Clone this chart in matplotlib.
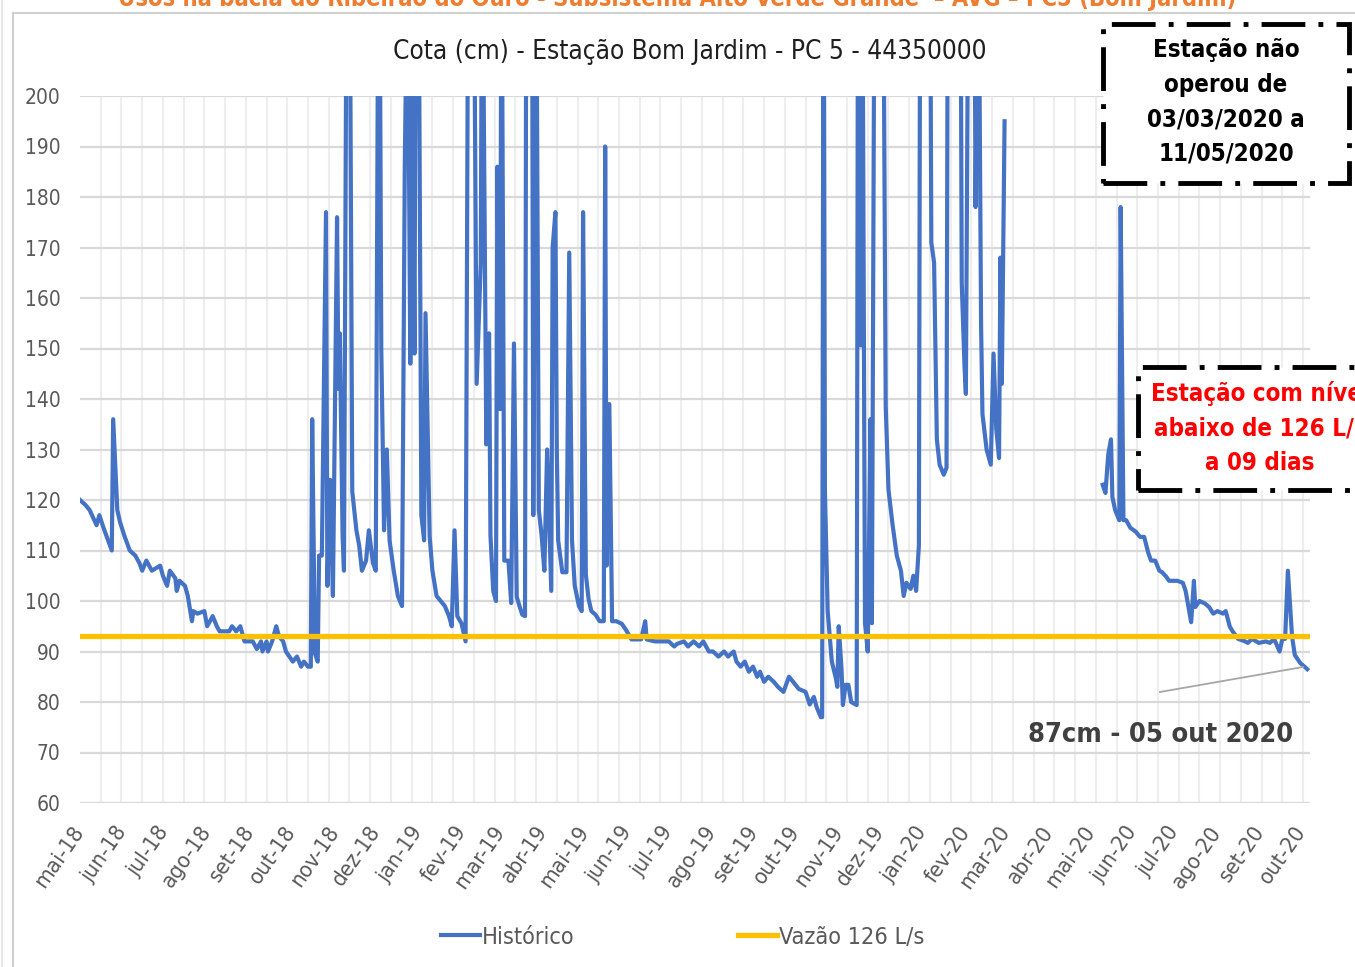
import numpy as np
import matplotlib
matplotlib.use("Agg")
import matplotlib.pyplot as plt
from matplotlib import font_manager
from matplotlib.font_manager import FontProperties
from matplotlib.lines import Line2D
from matplotlib.patches import Rectangle
from matplotlib.ticker import MultipleLocator

# ---- data (days counted from 2018-05-01, cota in cm) ----
BASE = np.datetime64("2018-05-01")

# mai-2018 .. 02/03/2020
dias_1820 = [0, 4, 7, 12, 14, 17, 23, 24, 27, 29, 32, 36, 40, 43, 45, 48, 52, 58, 60, 63,
             65, 69, 70, 72, 76, 78, 81, 82, 85, 90, 92, 96, 99, 101, 108, 110, 113, 116, 119, 125,
             128, 131, 132, 135, 136, 139, 142, 144, 147, 149, 154, 157, 160, 162, 165, 167, 168, 170, 172, 173,
             175, 178, 179, 181, 183, 186, 187, 188, 190, 191, 193, 194, 195, 197, 200, 202, 204, 207, 209, 212,
             214, 216, 217, 218, 220, 222, 224, 227, 230, 233, 235, 237, 239, 240, 242, 243, 245, 247, 249, 250,
             253, 255, 258, 264, 267, 269, 271, 273, 276, 279, 281, 283, 285, 287, 290, 291, 294, 296, 297, 299,
             301, 302, 304, 305, 307, 310, 312, 314, 316, 318, 320, 322, 323, 325, 327, 328, 330, 332, 334, 336,
             338, 341, 342, 344, 345, 346, 349, 352, 354, 356, 358, 361, 363, 364, 366, 368, 370, 373, 376, 379,
             380, 381, 383, 385, 388, 392, 395, 399, 403, 406, 409, 410, 416, 421, 426, 430, 432, 437, 440, 444,
             448, 451, 455, 458, 462, 466, 469, 473, 475, 478, 481, 484, 487, 490, 492, 495, 498, 502, 505, 509,
             513, 516, 520, 525, 528, 531, 533, 536, 537, 538, 539, 541, 544, 547, 548, 549, 551, 552, 554, 556,
             558, 562, 563, 565, 566, 568, 570, 572, 573, 575, 578, 581, 583, 585, 588, 591, 594, 596, 598, 601,
             603, 605, 607, 608, 612, 615, 616, 618, 620, 622, 625, 627, 628, 633, 637, 638, 640, 641, 643, 647,
             648, 650, 652, 653, 656, 659, 661, 663, 665, 666, 667, 669]
cota_1820 = [120, 119, 118, 115, 117, 114.5, 110, 136, 118, 115.6, 113, 110, 109, 107.5, 106, 108, 106, 107, 105, 103,
             106, 104.5, 102, 104, 103, 101, 96, 98, 97.5, 98, 95, 97, 95, 94, 94, 95, 94, 95, 92, 92,
             90.5, 92, 90, 92, 90, 92, 95, 93, 92, 90, 88, 89, 87, 88, 87, 87, 136, 89.6, 88, 109,
             109, 177, 103, 124, 101, 176, 142, 153, 113, 106, 235, 215, 240, 121.7, 114, 111, 106, 108, 114, 107.5,
             106, 240, 215, 150, 114, 130, 112, 106, 101, 99, 186, 230, 147, 230, 149, 230, 230, 117, 112, 157,
             112.8, 106, 101, 99, 97, 95, 114, 97, 95.6, 92, 240, 215, 230, 143, 167, 240, 131, 153, 113, 102,
             100, 186, 138, 240, 108, 108, 99.6, 151, 100.8, 99, 97.3, 97, 240, 230, 240, 117, 240, 118, 113, 106,
             130, 102, 170, 177, 130, 112, 105.7, 105.7, 169, 112, 103, 99, 98, 177, 105.3, 100.4, 98, 97.3, 96, 96,
             190, 107, 139, 96, 96, 95.5, 94.3, 92.4, 92.4, 92.4, 96, 92.4, 92, 92, 92, 91, 91.5, 92, 91, 92,
             91, 92, 90, 90, 89, 90, 89, 90, 88, 87, 88, 86, 87, 85, 86, 84, 85, 84, 83, 82,
             85, 84, 82.6, 82, 79.5, 81, 79, 77, 77, 240, 122, 98, 88, 84.6, 83, 95, 86.6, 79.4, 83.4, 83.4,
             80, 79.4, 240, 150.6, 240, 95.6, 90, 136, 95.6, 240, 250, 240, 138.5, 122, 115, 109, 106, 101, 103.6, 102.4,
             105, 102, 111, 240, 250, 240, 171, 167, 132, 127, 125, 126.4, 240, 250, 240, 163, 146.6, 141, 240, 240,
             178, 240, 154.7, 137, 130, 127, 149, 134, 128.3, 168, 143, 195]

# 12/05/2020 .. 05/10/2020
dias_2020 = [740, 742, 744, 746, 747, 749, 752, 753, 755, 757, 760, 764, 767, 770, 773, 775, 778, 781, 783, 786,
             788, 794, 798, 800, 804, 806, 807, 810, 814, 817, 820, 823, 827, 829, 832, 834, 838, 843, 845, 848,
             853, 858, 861, 864, 868, 870, 872, 874, 877, 879, 883, 886, 888]
cota_2020 = [123, 121.4, 129, 132, 120.6, 118, 116, 178, 116, 116, 114.5, 113.7, 112.7, 112.7, 109.5, 108, 108, 106, 105.7, 104.8,
             104, 104, 103.6, 102, 95.8, 104, 98.8, 100, 99.5, 98.8, 97.5, 98, 97.5, 98, 94.9, 94, 92.5, 92, 91.7, 92.5,
             91.7, 92, 91.7, 92.5, 90, 92.5, 92.5, 106, 93, 89.3, 87.7, 87, 86.5]

# cota equivalente a vazao de 126 L/s
limiar_dias = [0, 888]
limiar_cota = [93, 93]

meses = ["mai", "jun", "jul", "ago", "set", "out", "nov", "dez", "jan", "fev", "mar", "abr"]
tick_datas = np.arange(np.datetime64("2018-05"), np.datetime64("2020-11"), np.timedelta64(1, "M"))


# ---- fonts: prefer a narrow / condensed sans (chart was squeezed horizontally) ----
def pick_narrow(bold):
    for f in font_manager.fontManager.ttflist:
        fn = f.fname.lower()
        if ("narrow" in fn or "condensed" in fn) and "mono" not in fn and "serif" not in fn \
                and "italic" not in fn and "oblique" not in fn:
            w = f.weight if isinstance(f.weight, int) else (700 if "bold" in str(f.weight) else 400)
            if (w >= 600) == bold and w in (400, 700, "normal", "bold"):
                return f.fname
    return None


reg_file, bold_file = pick_narrow(False), pick_narrow(True)
if reg_file and bold_file:
    FREG = lambda s: FontProperties(fname=reg_file, size=s)
    FBOLD = lambda s: FontProperties(fname=bold_file, size=s)
    K = 1.0
else:
    FREG = lambda s: FontProperties(family="Liberation Sans", size=s)
    FBOLD = lambda s: FontProperties(family="Liberation Sans", weight="bold", size=s)
    K = 0.9

W, H = 1355, 967
fig = plt.figure(figsize=(W / 100, H / 100), dpi=100)
fx = lambda px: px / W
fy = lambda py: 1 - py / H

ax = fig.add_axes([fx(80), fy(803), fx(1310) - fx(80), fy(96) - fy(803)])
ax.plot(dias_1820, cota_1820, color="#4472C4", lw=3.0, solid_joinstyle="round", label="Histórico", zorder=3)
ax.plot(dias_2020, cota_2020, color="#4472C4", lw=3.0, solid_joinstyle="round", zorder=3)
ax.plot(limiar_dias, limiar_cota, color="#FFC000", lw=3.8, label="Vazão 126 L/s", zorder=4)

ax.set_ylim(60, 200)
ax.set_xlim(0, 890)
ax.set_yticks(np.arange(60, 201, 10))
tick_dias = (tick_datas.astype("datetime64[D]") - BASE).astype(int)
ax.set_xticks(tick_dias)
ax.set_xticklabels([f"{meses[i % 12]}-{str(d)[2:4]}" for i, d in enumerate(tick_datas)],
                   rotation=55, ha="right", va="center", rotation_mode="anchor")
ax.xaxis.set_minor_locator(MultipleLocator(15))
ax.grid(axis="y", which="major", color="#D9D9D9", lw=1.6)
ax.grid(axis="x", which="minor", color="#EEEEEE", lw=1.5)
ax.set_axisbelow(True)
for s in ax.spines.values():
    s.set_visible(False)
ax.tick_params(axis="both", which="both", length=0, colors="#595959")
ax.tick_params(axis="y", pad=14)
ax.tick_params(axis="x", pad=18)
for t in ax.get_yticklabels():
    t.set_fontproperties(FREG(15 * K))
for t in ax.get_xticklabels():
    t.set_fontproperties(FREG(16 * K))

# ---- titles ----
fig.text(0.5, fy(6), "Usos na bacia do Ribeirão do Ouro - Subsistema Alto Verde Grande  – AVG – PC5 (Bom Jardim)",
         ha="center", va="baseline", fontproperties=FBOLD(17 * K), color="#ED7D31")
fig.text(fx(690), fy(52), "Cota (cm) - Estação Bom Jardim - PC 5 - 44350000",
         ha="center", va="center", fontproperties=FREG(18.8 * K), color="#1F1F1F")

# ---- frame lines of the chart area ----
fig.add_artist(Line2D([fx(2), fx(2)], [0, 1], color="#E3E3E3", lw=1.2))
fig.add_artist(Line2D([fx(13), fx(13)], [0, fy(13)], color="#D0D0D0", lw=1.5))
fig.add_artist(Line2D([fx(13), 1], [fy(13), fy(13)], color="#D0D0D0", lw=1.5))

# ---- legend ----
h, l = ax.get_legend_handles_labels()
leg = fig.legend(h, l, loc="center", bbox_to_anchor=(fx(683), fy(937)), ncol=2, frameon=False,
                 prop=FREG(16.8 * K), handlelength=1.65, handletextpad=0.1, columnspacing=7.0)
for t in leg.get_texts():
    t.set_color("#595959")

# ---- text boxes ----
dash = (0, (9, 2.7, 1, 2.7))
fig.add_artist(Rectangle((fx(1103), fy(183)), fx(1349) - fx(1103), fy(24) - fy(183),
                         transform=fig.transFigure, facecolor="white", edgecolor="black",
                         lw=3.5, linestyle=dash, zorder=5))
fig.text(fx(1226), fy(102), "Estação não\noperou de\n03/03/2020 a\n11/05/2020", ha="center", va="center",
         fontproperties=FBOLD(17.3 * K), color="black", linespacing=1.55, zorder=6)

fig.add_artist(Rectangle((fx(1138), fy(490)), fx(1400) - fx(1138), fy(367) - fy(490),
                         transform=fig.transFigure, facecolor="white", edgecolor="black",
                         lw=3.5, linestyle=dash, zorder=5))
fig.text(fx(1260), fy(428), "Estação com nível\nabaixo de 126 L/s\na 09 dias", ha="center", va="center",
         fontproperties=FBOLD(17.3 * K), color="#FF0000", linespacing=1.55, zorder=6)

# ---- last reading callout ----
fig.add_artist(Line2D([fx(1160), fx(1303)], [fy(692), fy(667)], color="#A6A6A6", lw=1.3))
fig.text(fx(1161), fy(735), "87cm - 05 out 2020", ha="center", va="center",
         fontproperties=FBOLD(19.5 * K), color="#404040")

fig.savefig("out.png", dpi=100)
